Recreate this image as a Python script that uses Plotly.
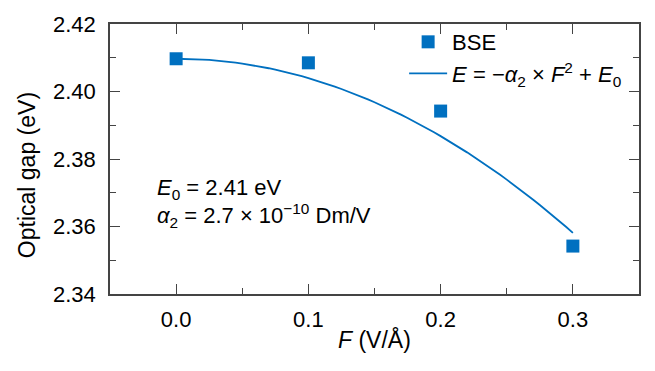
import numpy as np
import plotly.graph_objects as go

# BSE optical gap versus applied field
field = [0.0, 0.1, 0.2, 0.3]              # F (V/Å)
gap_bse = [2.4097, 2.4085, 2.3942, 2.3542]  # eV

# Quadratic Stark fit  E = -a2 * F^2 + E0   (eV, V/Å)
fit_E0 = 2.4097
fit_a2 = 0.573
fit_F = np.linspace(0.0, 0.3, 61)
fit_E = -fit_a2 * fit_F**2 + fit_E0

blue = "#0070C0"
axis_col = "#444444"
family = "Liberation Sans, Arial, sans-serif"
font = dict(family=family, size=22, color="black")
title_font = dict(family=family, size=23, color="black")

fig = go.Figure()
fig.add_trace(go.Scatter(
    x=field, y=gap_bse, mode="markers", name="BSE",
    marker=dict(symbol="square", size=13, color=blue),
))
fig.add_trace(go.Scatter(
    x=fit_F, y=fit_E, mode="lines",
    name="<i>E</i> = −<i>α</i><sub>2</sub> × <i>F</i><sup>2</sup> + <i>E</i><sub>0</sub>",
    line=dict(color=blue, width=1.8),
))

axis_common = dict(
    showline=True, linecolor=axis_col, linewidth=1.5, mirror="allticks",
    ticks="inside", ticklen=10, tickwidth=1.2, tickcolor=axis_col,
    showgrid=False, zeroline=False, tickfont=font,
)

fig.update_xaxes(
    range=[-0.05, 0.35], tickvals=[0.0, 0.1, 0.2, 0.3],
    ticktext=["0.0", "0.1", "0.2", "0.3"],
    minor=dict(ticks="inside", ticklen=6, tickwidth=1.2, tickcolor=axis_col,
               dtick=0.05, tick0=0.0),
    ticklabelstandoff=5,
    **axis_common,
)
fig.update_yaxes(
    range=[2.34, 2.42], tickvals=[2.34, 2.36, 2.38, 2.40, 2.42],
    ticktext=["2.34", "2.36", "2.38", "2.40", "2.42"],
    minor=dict(ticks="inside", ticklen=6, tickwidth=1.2, tickcolor=axis_col,
               dtick=0.01, tick0=2.34),
    ticklabelstandoff=8,
    **axis_common,
)

# Axis titles placed as annotations for precise positioning
fig.add_annotation(
    xref="paper", yref="paper", x=0.5, y=-0.168, xanchor="center", yanchor="middle",
    text="<i>F</i> (V/Å)", showarrow=False, font=title_font,
)
fig.add_annotation(
    xref="paper", yref="paper", x=-0.157, y=0.44, xanchor="center", yanchor="middle",
    text="Optical gap (eV)", textangle=-90, showarrow=False, font=title_font,
)

fig.add_annotation(
    xref="paper", yref="paper", x=0.085, y=0.39, xanchor="left", yanchor="middle",
    text="<i>E</i><sub>0</sub> = 2.41 eV", showarrow=False, font=font,
)
fig.add_annotation(
    xref="paper", yref="paper", x=0.085, y=0.292, xanchor="left", yanchor="middle",
    text="<i>α</i><sub>2</sub> = 2.7 × 10<sup>−10</sup> Dm/V", showarrow=False, font=font,
)

fig.update_layout(
    width=655, height=371,
    margin=dict(l=110, r=16, t=14, b=77),
    paper_bgcolor="white", plot_bgcolor="white",
    font=font,
    showlegend=True,
    legend=dict(
        x=0.556, y=1.011, xanchor="left", yanchor="top",
        bgcolor="rgba(0,0,0,0)", font=font, itemwidth=38,
    ),
)

fig.write_html("out.html")
